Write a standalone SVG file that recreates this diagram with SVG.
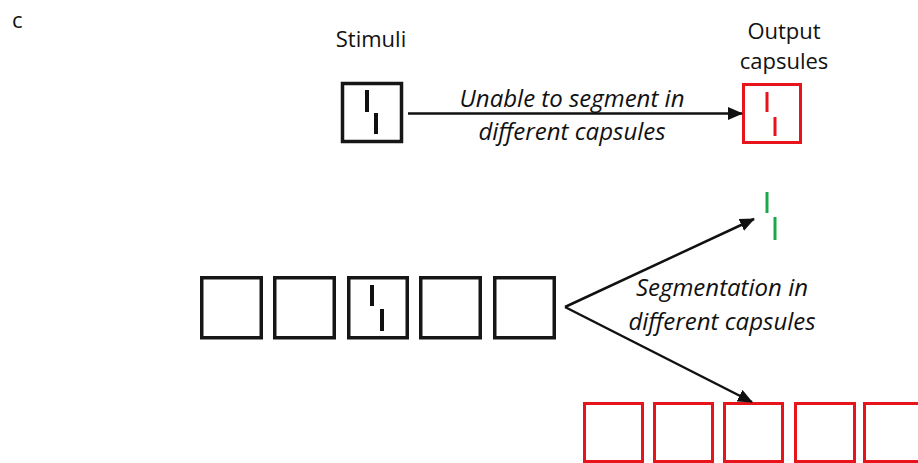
<svg xmlns="http://www.w3.org/2000/svg" width="918" height="463" viewBox="0 0 918 463">
  <defs>
    <marker id="arrow" viewBox="0 0 15 13" refX="14" refY="6.5" markerWidth="15" markerHeight="13" markerUnits="userSpaceOnUse" orient="auto">
      <path d="M0,0 L15,6.5 L0,13 Z" fill="#111"/>
    </marker>
  </defs>
  <style>
    .lbl { font-family: "Open Sans", "Liberation Sans", sans-serif; font-size: 22px; fill: #111; }
    .it { font-style: italic; font-size: 24px; }
    .box { fill: #fff; stroke: #161616; stroke-width: 3.5; }
    .rbox { fill: #fff; stroke: #e8141c; stroke-width: 3; }
    .bar { stroke: #111; stroke-width: 4; }
    .rbar { stroke: #e8141c; stroke-width: 3; }
    .gbar { stroke: #1aa84a; stroke-width: 3; }
    .edge { stroke: #111; stroke-width: 2.5; fill: none; marker-end: url(#arrow); }
  </style>
  <rect width="918" height="463" fill="#fff"/>

  <text class="lbl" x="12" y="28">c</text>

  <!-- top row: stimulus and single output capsule -->
  <g id="stimulus">
    <text class="lbl" x="371" y="47" text-anchor="middle">Stimuli</text>
    <rect class="box" x="342.5" y="83.5" width="59" height="58"/>
    <line class="bar" x1="367" y1="90" x2="367" y2="112"/>
    <line class="bar" x1="376" y1="113" x2="376" y2="134"/>
  </g>

  <g id="output-capsule">
    <text class="lbl" x="784" y="39" text-anchor="middle">Output</text>
    <text class="lbl" x="784" y="69" text-anchor="middle">capsules</text>
    <rect class="rbox" x="743.5" y="84.5" width="57" height="58"/>
    <line class="rbar" x1="767" y1="92" x2="767" y2="112"/>
    <line class="rbar" x1="775" y1="117" x2="775" y2="136"/>
  </g>

  <!-- bottom row: stimulus sequence -->
  <g id="input-sequence">
    <rect class="box" x="201.75" y="277.75" width="59.5" height="60"/>
    <rect class="box" x="274.75" y="277.75" width="59.5" height="60"/>
    <rect class="box" x="348.75" y="277.75" width="58.5" height="60"/>
    <rect class="box" x="420.75" y="277.75" width="59.5" height="60"/>
    <rect class="box" x="494.75" y="277.75" width="59.5" height="60"/>
    <line class="bar" x1="372" y1="285" x2="372" y2="306"/>
    <line class="bar" x1="382" y1="309" x2="382" y2="331"/>
  </g>

  <g id="segmented-parts">
    <line class="gbar" x1="767" y1="192" x2="767" y2="213"/>
    <line class="gbar" x1="775" y1="217" x2="775" y2="240"/>
  </g>

  <g id="output-sequence">
    <rect class="rbox" x="584.5" y="403.5" width="58" height="58"/>
    <rect class="rbox" x="654.5" y="403.5" width="58" height="58"/>
    <rect class="rbox" x="724.5" y="403.5" width="58" height="58"/>
    <rect class="rbox" x="795.5" y="403.5" width="59" height="58"/>
    <rect class="rbox" x="864.5" y="403.5" width="60" height="58"/>
  </g>

  <g id="connectors">
    <line class="edge" x1="408" y1="113.5" x2="742" y2="113.5"/>
    <line class="edge" x1="565" y1="307" x2="754" y2="219"/>
    <line class="edge" x1="565" y1="307" x2="752" y2="402"/>
  </g>

  <g id="edge-labels">
    <text class="lbl it" x="572" y="107" text-anchor="middle">Unable to segment in</text>
    <text class="lbl it" x="572" y="140" text-anchor="middle">different capsules</text>
    <text class="lbl it" x="722" y="296" text-anchor="middle">Segmentation in</text>
    <text class="lbl it" x="722" y="330" text-anchor="middle">different capsules</text>
  </g>
</svg>
